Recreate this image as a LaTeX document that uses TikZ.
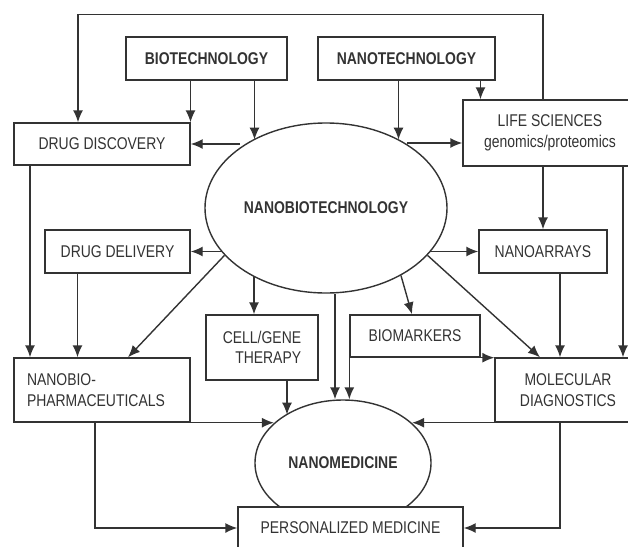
\documentclass[tikz,border=0pt]{standalone}
\usepackage{fontspec}
\setmainfont{Liberation Sans}[FakeStretch=0.82]
\usetikzlibrary{arrows.meta}
\usetikzlibrary{shapes}
\usetikzlibrary{calc}
\usetikzlibrary{positioning}

\begin{document}
\begin{tikzpicture}[x=1pt, y=-1pt, >={Latex[length=12pt,width=10pt]}, line width=1.4pt, color=black!80,
  every node/.style={font=\fontsize{17}{20.5}\selectfont},
  box/.style={draw, fill=white, rectangle, inner sep=0pt, minimum height=43},
  bold/.style={font=\fontsize{17}{20.5}\selectfont\bfseries},
  oval/.style={draw, ellipse, inner sep=0pt, bold}]
\useasboundingbox (0,0) rectangle (628,546);
\clip (0,0) rectangle (628,546);

%Sources
\node[box, bold, minimum width=161] (bio) at (206.5,58.5) {BIOTECHNOLOGY};
\node[box, bold, minimum width=177] (nano) at (406.5,58.5) {NANOTECHNOLOGY};

%Core
\node[oval, minimum width=242, minimum height=170] (nbt) at (326,208) {NANOBIOTECHNOLOGY};
\node[oval, minimum width=176, minimum height=126] (nm) at (343,463) {NANOMEDICINE};

%Fields
\node[box, minimum width=176, minimum height=42] (dd) at (102,144) {DRUG DISCOVERY};
\node[box, minimum width=174, minimum height=66, align=center] (life) at (550,133) {LIFE SCIENCES\\genomics/proteomics};
\node[box, minimum width=145] (ddel) at (117.5,251.5) {DRUG DELIVERY};
\node[box, minimum width=128] (narr) at (543,251.5) {NANOARRAYS};
\node[box, minimum width=112, minimum height=65, align=right] (cg) at (262,347.5) {CELL/GENE\\THERAPY};
\node[box, minimum width=130, minimum height=42] (bm) at (415,336) {BIOMARKERS};
\node[box, minimum width=176, minimum height=64, text width=150, align=left] (nbp) at (102,390) {NANOBIO-\\PHARMACEUTICALS};
\node[box, minimum width=146, minimum height=64, align=center] (md) at (568,390) {MOLECULAR\\DIAGNOSTICS};
\node[box, minimum width=225, minimum height=42] (pm) at (350.5,528) {PERSONALIZED MEDICINE};

%Top row
\draw[->] ([xshift=-7pt]life.north) -- ++(0,-85) -| ([xshift=-24pt]dd.north);
\draw[->] ([xshift=-16pt]bio.south) -- ([xshift=-16pt]bio.south |- dd.north);
\draw[->] ([xshift=48pt]bio.south) -- ([xshift=48pt]bio.south |- nbt.137);
\draw[->] ([xshift=-8pt]nano.south) -- ([xshift=-8pt]nano.south |- nbt.43);
\draw[->] ([xshift=74pt]nano.south) -- ([xshift=74pt]nano.south |- life.north);
\draw[->] (dd.east -| nbt.145) -- (dd.east);
\draw[->] ([yshift=-10pt]life.west -| nbt.38) -- ([yshift=-10pt]life.west);

%Middle
\draw[->] (ddel.east -| nbt.203) -- (ddel.east);
\draw[->] (nbt.205) -- ([xshift=26pt]nbp.north);
\draw[->] (narr.west -| nbt.337) -- (narr.west);
\draw[->] (nbt.335) -- ([xshift=-28pt]md.north);
\draw[->] (narr.north |- life.south) -- (narr.north);
\draw[->] ([xshift=55pt]md.north |- life.south) -- ([xshift=55pt]md.north);
\draw[->] ([xshift=17pt]narr.south) -- ([xshift=17pt]narr.south |- md.north);
\draw[->] ([xshift=-72pt]dd.south) -- ([xshift=-72pt]dd.south |- nbp.north);
\draw[->] ([xshift=-40pt]ddel.south) -- ([xshift=-40pt]ddel.south |- nbp.north);
\draw[->] ([xshift=-8pt]cg.north |- nbt.223) -- ([xshift=-8pt]cg.north);
\draw[->] (nbt.318) -- ([xshift=-3pt]bm.north);

%Bottom
\draw[->] ([xshift=-8pt]nm.north |- nbt.south) -- ([xshift=-8pt]nm.north);
\draw[->] (bm.south west) -- (bm.south west |- nm.north);
\draw[->] (bm.south east) -- (bm.south east -| md.west);
\draw[->] (nbp.south east) -- (nbp.south east -| nm.150);
\draw[->] ([xshift=25pt]cg.south) -- ([xshift=25pt]cg.south |- nm.140);
\draw[->] (md.south west) -- (md.south west -| nm.30);
\draw[->] ([xshift=-7pt]nbp.south) |- (pm.west);
\draw[->] ([xshift=-8pt]md.south) |- (pm.east);
\end{tikzpicture}
\end{document}
